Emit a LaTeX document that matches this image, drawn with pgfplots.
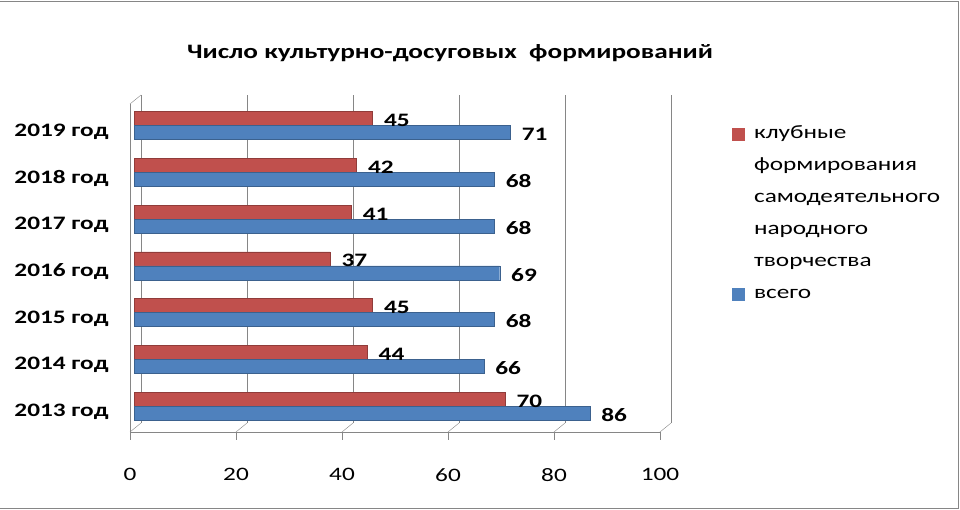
\documentclass[border=0pt]{standalone}
\usepackage{pgfplots}
\pgfplotsset{compat=1.18}
\usepackage{fontspec}
\setmainfont{Carlito}[FakeStretch=1.33]
\definecolor{cred}{HTML}{C0504D}
\definecolor{cblue}{HTML}{4F81BD}
\definecolor{cgrid}{HTML}{868686}
\begin{document}
\begin{tikzpicture}[x=1pt,y=1pt]
\path[use as bounding box] (0,0) rectangle (960,510);
\draw[cgrid, line width=1.5pt] (0,508.5) -- (958.5,508.5) -- (958.5,1.5) -- (0,1.5);
\node[font=\bfseries\fontsize{20.5}{24}\selectfont] at (450,457) {Число культурно-досуговых\ \ формирований};
\begin{axis}[
  at={(130pt,78pt)}, anchor=south west, scale only axis,
  width=530pt, height=328pt,
  xmin=0, xmax=100, ymin=-0.556, ymax=6.46,
  /pgf/number format/assume math mode=true,
  xtick={0,20,...,100},
  ytick={0,...,6},
  yticklabels={2013 год,2014 год,2015 год,2016 год,2017 год,2018 год,2019 год},
  axis x line*=bottom, axis y line*=left,
  axis line style={cgrid,-},
  tick align=outside, major tick length=8pt,
  xtick style={cgrid},
  ytick style={draw=none},
  xmajorgrids, major grid style={cgrid, xshift=11pt, yshift=9pt},
  xticklabel style={font=\fontsize{19}{19}\selectfont, yshift=-25pt},
  yticklabel style={font=\bfseries\fontsize{19}{19}\selectfont, xshift=-10pt, yshift=-6pt},
  xbar, bar width=14pt,
  nodes near coords,
  every node near coord/.append style={anchor=west, xshift=8pt, yshift=-2pt, font=\bfseries\fontsize{19}{19}\selectfont, black},
  legend cell align=left,
  legend style={at={(1.122,0.94)}, anchor=north west, draw=none, fill=none,
    font=\fontsize{19}{19}\selectfont, row sep=15pt, column sep=10pt,
    nodes={inner sep=0pt, text height=13pt, text depth=4pt}},
  clip=false,
]
\foreach \t in {0,20,40,60,80,100} {
  \edef\temp{\noexpand\draw[cgrid] (axis cs:\t,-0.556) -- ++(11pt,9pt);}
  \temp
}
\draw[cgrid] (axis cs:0,6.46) -- ++(11pt,9pt);
\addplot[fill=cred, draw=cred!75!black, bar shift=7pt, xshift=4pt,
  legend image code/.code={\fill[cred] (0pt,-6pt) rectangle (12pt,6pt);}]
  coordinates {(70,0) (44,1) (45,2) (37,3) (41,4) (42,5) (45,6)};
\addlegendentry{клубные}
\addlegendimage{empty legend}\addlegendentry{формирования}
\addlegendimage{empty legend}\addlegendentry{самодеятельного}
\addlegendimage{empty legend}\addlegendentry{народного}
\addlegendimage{empty legend}\addlegendentry{творчества}
\addplot[fill=cblue, draw=cblue!75!black, bar shift=-7pt, xshift=4pt,
  legend image code/.code={\fill[cblue] (0pt,-6pt) rectangle (12pt,6pt);}]
  coordinates {(86,0) (66,1) (68,2) (69,3) (68,4) (68,5) (71,6)};
\addlegendentry{всего}
\end{axis}
\end{tikzpicture}
\end{document}
